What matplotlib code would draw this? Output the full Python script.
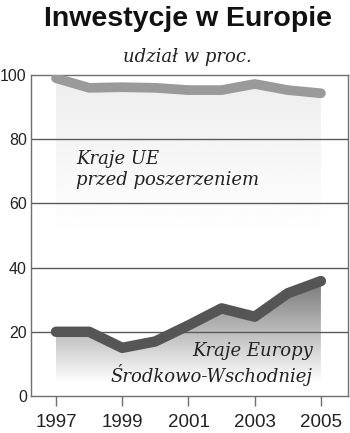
import numpy as np
import matplotlib
matplotlib.use("Agg")
import matplotlib.pyplot as plt

years = [1997, 1998, 1999, 2000, 2001, 2002, 2003, 2004, 2005]
eu_old = [99, 96, 96.2, 96, 95.3, 95.3, 97.2, 95.3, 94.3]
cee = [20, 20, 15, 17, 22, 27.3, 24.7, 32, 35.8]
yticks = [0, 20, 40, 60, 80, 100]
xticks = [1997, 1999, 2001, 2003, 2005]

title = "Inwestycje w Europie"
subtitle = "udział w proc."
label_eu = "Kraje UE\nprzed poszerzeniem"
label_cee = "Kraje Europy\nŚrodkowo-Wschodniej"

fig = plt.figure(figsize=(3.5, 4.33), dpi=100)
ax = fig.add_axes([0.0886, 0.0855, 0.9054, 0.7413])
ax.set_xlim(1996.245, 2005.815)
ax.set_ylim(0, 100)


def gradient_fill(x, y, base, top_val, c_top, c_bottom, z):
    poly = ax.fill_between(x, y, base, facecolor="none", edgecolor="none")
    n = 256
    grad = np.linspace(c_top, c_bottom, n).reshape(n, 1)
    img = ax.imshow(grad, extent=[min(x), max(x), base, top_val], aspect="auto",
                    cmap="gray", vmin=0, vmax=1, origin="upper", zorder=z,
                    interpolation="bilinear")
    path = poly.get_paths()[0]
    img.set_clip_path(path, transform=ax.transData)


gradient_fill(years, eu_old, 50, max(eu_old), 0.93, 1.0, 1)
gradient_fill(years, cee, 4, max(cee), 0.47, 1.0, 1)

for t in [20, 40, 60, 80]:
    ax.axhline(t, color="#5a5a5a", lw=1.0, zorder=2)

ax.plot(years, eu_old, color="#9a9a9a", lw=7.0, solid_capstyle="round",
        solid_joinstyle="round", zorder=3)
ax.plot(years, cee, color="#555555", lw=7.5, solid_capstyle="round",
        solid_joinstyle="round", zorder=3)

for s in ax.spines.values():
    s.set_color("#707070")
    s.set_linewidth(1.0)

ax.set_yticks(yticks)
ax.set_yticklabels([str(v) for v in yticks])
ax.set_xticks(xticks)
ax.set_xticklabels([str(v) for v in xticks])
ax.tick_params(axis="y", length=0, pad=3, labelsize=11.5, labelcolor="#222222")
ax.tick_params(axis="x", direction="out", length=7, width=1, color="#707070",
               pad=6, labelsize=13.5, labelcolor="#222222")
for lab in ax.get_xticklabels() + ax.get_yticklabels():
    lab.set_fontfamily("Liberation Sans")

ax.text(1997.6, 70.5, label_eu, fontsize=13, style="italic",
        family="DejaVu Serif", color="#222222", va="center", ha="left",
        linespacing=1.2, zorder=4)
ax.text(2004.75, 10.0, label_cee, fontsize=13, style="italic",
        family="DejaVu Serif", color="#222222", va="center", ha="right",
        linespacing=1.2, zorder=4)

fig.text(0.536, 0.957, title, fontsize=20.5, fontweight="bold",
         family="Liberation Sans", ha="center", va="center", color="#111111")
fig.text(0.534, 0.868, subtitle, fontsize=13, style="italic",
         family="DejaVu Serif", ha="center", va="center", color="#222222")

fig.savefig("out.png", dpi=100)
